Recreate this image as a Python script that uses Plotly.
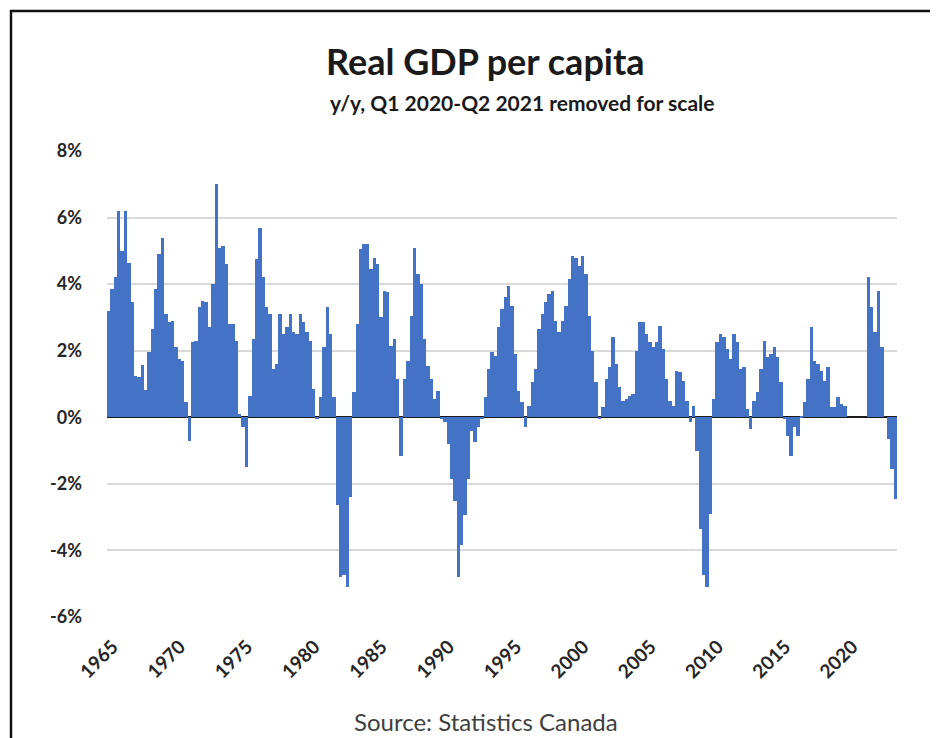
import plotly.graph_objects as go

# ---- data (y/y % change, quarterly, 1965Q1 .. 2023Q3; Q1 2020 - Q2 2021 removed) ----
start_year = 1965
growth = [
    3.2, 3.85, 4.2, 6.2, 5.0, 6.2, 4.65, 3.45, 1.25, 1.2,          # 1965-1967Q2
    1.58, 0.82, 1.95, 2.65, 3.85, 4.9, 5.4, 3.1, 2.85, 2.9,        # -1969Q4
    2.1, 1.75, 1.7, 0.45, -0.7, 2.25, 2.3, 3.3, 3.5, 3.45,         # -1972Q2
    2.7, 4.0, 7.0, 5.1, 5.15, 4.6, 2.8, 2.8, 2.3, 0.1,             # -1974Q4
    -0.3, -1.5, 0.65, 2.35, 4.75, 5.7, 4.2, 3.3, 3.1, 1.45,        # -1977Q2
    1.6, 3.1, 2.5, 2.7, 3.1, 2.55, 2.5, 3.1, 2.85, 2.55,           # -1979Q4
    2.3, 0.85, -0.05, 0.6, 2.1, 3.3, 2.5, 0.6, -2.65, -4.8,        # -1982Q2
    -4.75, -5.1, -2.4, 0.75, 2.8, 5.05, 5.2, 5.2, 4.45, 4.8,       # -1984Q4
    4.6, 3.0, 3.8, 3.75, 2.15, 2.35, 1.15, -1.15, 1.15, 1.7,       # -1987Q2
    3.05, 5.1, 4.3, 4.0, 2.35, 1.55, 1.15, 0.55, 0.8, -0.05,       # -1989Q4
    -0.15, -0.8, -1.85, -2.5, -4.8, -3.85, -2.95, -1.85, -0.4, -0.75,  # -1992Q2
    -0.3, -0.05, 0.6, 1.45, 1.95, 1.85, 2.7, 3.25, 3.6, 3.95,      # -1994Q4
    3.35, 1.9, 0.8, 0.45, -0.3, 0.35, 1.05, 1.45, 2.65, 3.1,       # -1997Q2
    3.45, 3.7, 3.8, 2.9, 2.55, 2.9, 3.35, 4.15, 4.85, 4.8,         # -1999Q4
    4.55, 4.85, 4.3, 3.05, 2.0, 1.05, -0.05, 0.3, 1.15, 1.5,       # -2002Q2
    2.4, 1.6, 0.9, 0.5, 0.55, 0.65, 0.7, 2.0, 2.85, 2.85,          # -2004Q4
    2.5, 2.25, 2.1, 2.25, 2.75, 2.05, 1.15, 0.5, 0.35, 1.4,        # -2007Q2
    1.35, 1.1, 0.5, -0.15, 0.35, -1.0, -3.35, -4.75, -5.1, -2.9,   # -2009Q4
    0.55, 2.25, 2.5, 2.4, 2.05, 1.75, 2.5, 2.25, 1.45, 1.5,        # -2012Q2
    0.25, -0.35, 0.5, 0.75, 1.45, 2.3, 1.8, 1.9, 2.1, 1.8,         # -2014Q4
    1.05, -0.05, -0.55, -1.15, -0.3, -0.55, 0.05, 0.45, 1.15, 2.7, # -2017Q2
    1.7, 1.6, 1.4, 1.1, 1.5, 0.3, 0.3, 0.6, 0.4, 0.35,             # -2019Q4
    None, None, None, None, None, None,                            # 2020Q1-2021Q2 removed
    4.2, 3.3, 2.55, 3.8, 2.1, 0.0, -0.65, -1.55, -2.45,            # 2021Q3-2023Q3
]
tick_years = [1965, 1970, 1975, 1980, 1985, 1990, 1995, 2000, 2005, 2010, 2015, 2020]
y_ticks = [-6, -4, -2, 0, 2, 4, 6, 8]

title_text = "Real GDP per capita"
subtitle_text = "y/y, Q1 2020-Q2 2021 removed for scale"
source_text = "Source: Statistics Canada"

quarter_index = list(range(len(growth)))
tick_pos = [(y - start_year) * 4 for y in tick_years]

# the page body has an 8px margin, so the figure is laid out 8px up/left
OFF = 8
W, H = 930, 730
L, T = 107 - OFF, 151 - OFF
R = W - (897 - OFF)
B = H - (617 - OFF)
FONT = "Lato"

fig = go.Figure()
fig.add_trace(go.Bar(
    x=quarter_index, y=growth,
    marker=dict(color="#4472C4", line=dict(width=0)),
    hoverinfo="x+y",
))

fig.update_layout(
    width=W, height=H,
    margin=dict(l=L, r=R, t=T, b=B, pad=0),
    paper_bgcolor="white", plot_bgcolor="white",
    bargap=0, showlegend=False,
    font=dict(family=FONT, color="#262626"),
    xaxis=dict(
        range=[-0.5, len(growth) - 0.5],
        tickmode="array", tickvals=tick_pos, ticktext=[str(y) for y in tick_years],
        tickangle=-45, showgrid=False, zeroline=False, showline=False, ticks="",
        ticklabelstandoff=14, ticklabelshift=4,
        tickfont=dict(size=19, family=FONT, color="#262626", weight="bold"),
    ),
    yaxis=dict(
        range=[-6, 8],
        tickmode="array", tickvals=y_ticks, ticktext=[f"{v}%" for v in y_ticks],
        showgrid=True, gridcolor="#d9d9d9", gridwidth=1.5,
        zeroline=True, zerolinecolor="#1a1a1a", zerolinewidth=2,
        showline=False, ticks="", ticklabelstandoff=24,
        tickfont=dict(size=18, family=FONT, color="#262626", weight="bold"),
    ),
)

def px_x(px):
    return (px - OFF - L) / (W - L - R)

def px_y(py):
    return (H - B - (py - OFF)) / (H - T - B)

fig.add_annotation(text=title_text, xref="paper", yref="paper",
                   x=px_x(485), y=px_y(61), xanchor="center", yanchor="middle",
                   showarrow=False,
                   font=dict(size=36, family=FONT, color="#1a1a1a", weight="bold"))
fig.add_annotation(text=subtitle_text, xref="paper", yref="paper",
                   x=px_x(522), y=px_y(103), xanchor="center", yanchor="middle",
                   showarrow=False,
                   font=dict(size=21, family=FONT, color="#1a1a1a", weight="bold"))
fig.add_annotation(text=source_text, xref="paper", yref="paper",
                   x=px_x(486), y=px_y(721), xanchor="center", yanchor="middle",
                   showarrow=False,
                   font=dict(size=24, family=FONT, color="#404040"))

# outer chart frame
fig.add_shape(type="rect", xref="paper", yref="paper",
              x0=px_x(11), x1=px_x(960), y0=px_y(760), y1=px_y(11),
              line=dict(color="#111111", width=2.5), fillcolor="rgba(0,0,0,0)",
              layer="above")

fig.write_html("out.html")
